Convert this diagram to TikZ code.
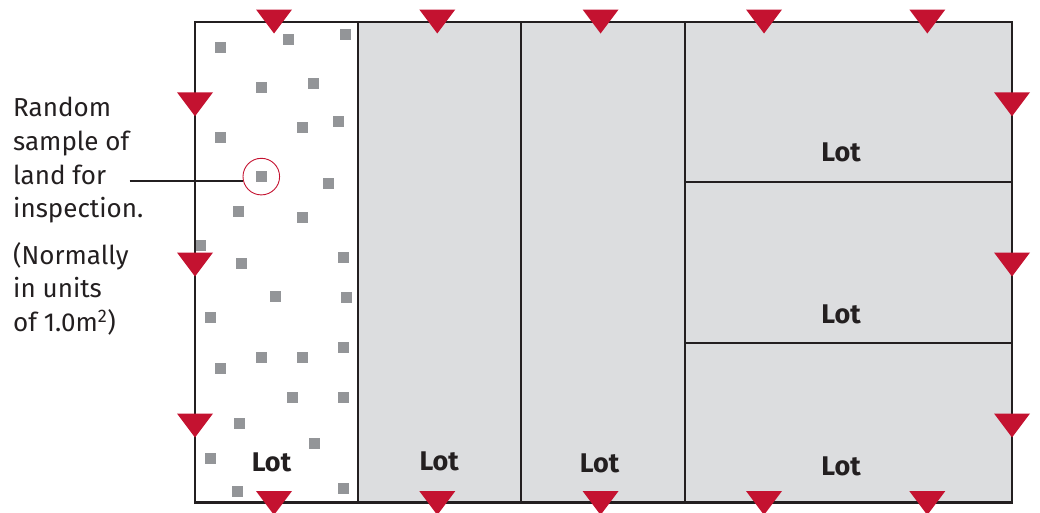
\documentclass[tikz,border=0pt]{standalone}
\usepackage{fontspec}
\setmainfont{Fira Sans}
\definecolor{ink}{HTML}{231F20}
\definecolor{lotgray}{HTML}{DCDDDF}
\definecolor{dotgray}{HTML}{939598}
\definecolor{markred}{HTML}{C41230}
\tikzset{
  border/.style={draw=ink, line width=2.2pt},
  lotfill/.style={fill=lotgray},
  sample/.style={fill=dotgray},
  marker/.style={fill=markred},
  lotlabel/.style={font=\fontsize{27}{27}\selectfont\bfseries, text=ink, inner sep=0pt},
  notetext/.style={font=\fontsize{26}{26}\selectfont, text=ink, inner sep=0pt, anchor=base west},
}
\begin{document}
\begin{tikzpicture}[x=1pt, y=-1pt]
  \useasboundingbox (0,0) rectangle (1040,512);
  \clip (0,0) rectangle (1040,512);

  % grey lots
  \fill[lotfill] (358,22) rectangle (1012,502.5);

  % random sample squares in the first lot
  \foreach \sx/\sy in {
    220.5/47.5, 288.5/39.3, 345.5/34.3, 261.5/87.3, 313.5/83.3,
    338.5/121.3, 302.5/127.3, 220.5/137.3, 261.5/176.3, 328.5/183.3,
    238.5/211.3, 302.5/217.3, 200.5/245.3, 241.5/263.3, 343.5/257.3,
    275.5/296.3, 346.5/297.3, 210.5/317.3, 343.5/347.3, 261.5/357.3,
    302.5/357.3, 220.5/368.3, 292.5/397.3, 343.5/397.3, 239.5/423.3,
    314.5/443.3, 210.5/458.3, 237.5/491.3, 343.5/488.3}
    \fill[sample] (\sx-5.5,\sy-5.5) rectangle (\sx+5.5,\sy+5.5);

  % lot boundaries
  \draw[border] (195,22) rectangle (1012,502.5);
  \draw[border] (358,22) -- (358,502.5);
  \draw[border] (521,22) -- (521,502.5);
  \draw[border] (685,22) -- (685,502.5);
  \draw[border] (685,182.3) -- (1012,182.3);
  \draw[border] (685,343) -- (1012,343);

  % highlighted sample and its note
  \node[circle, draw=markred, line width=0.9pt, minimum size=36.6pt, inner sep=0pt] (circ) at (261.3,176.6) {};
  \coordinate (lead) at (129.5,181.3);
  \draw[ink, line width=2.2pt] (lead) -- (lead -| circ.west);

  % corner markers
  \foreach \mx in {274,437.3,600.6,764,927.3} {
    \fill[marker] (\mx-18,9.5) -- (\mx+18,9.5) -- (\mx,33.5) -- cycle;
    \fill[marker] (\mx-18,491) -- (\mx+18,491) -- (\mx,515) -- cycle;
  }
  \foreach \my in {92.3,252.5,413.5} {
    \fill[marker] (195-18,\my) -- (195+18,\my) -- (195,\my+24) -- cycle;
    \fill[marker] (1012-18,\my) -- (1012+18,\my) -- (1012,\my+24) -- cycle;
  }

  % lot labels
  \node[lotlabel] (lot1) at (271.5,462) {Lot};
  \node[lotlabel] (lot2) at (439.2,461.7) {Lot};
  \node[lotlabel] (lot3) at (599.5,463) {Lot};
  \node[lotlabel] (lot4) at (841,152.7) {Lot};
  \node[lotlabel] (lot5) at (841,314) {Lot};
  \node[lotlabel] (lot6) at (841,466) {Lot};

  % explanatory note
  \node[notetext] (t1) at (13,116) {Random};
  \node[notetext] (t2) at (13,150) {sample of};
  \node[notetext] (t3) at (13,184.3) {land for};
  \node[notetext] (t4) at (13,217.7) {inspection.};
  \node[notetext] (t5) at (13,264.3) {(Normally};
  \node[notetext] (t6) at (13,297.7) {in units};
  \node[notetext] (t7) at (13,331.7) {of 1.0m\textsuperscript{2})};
\end{tikzpicture}
\end{document}
